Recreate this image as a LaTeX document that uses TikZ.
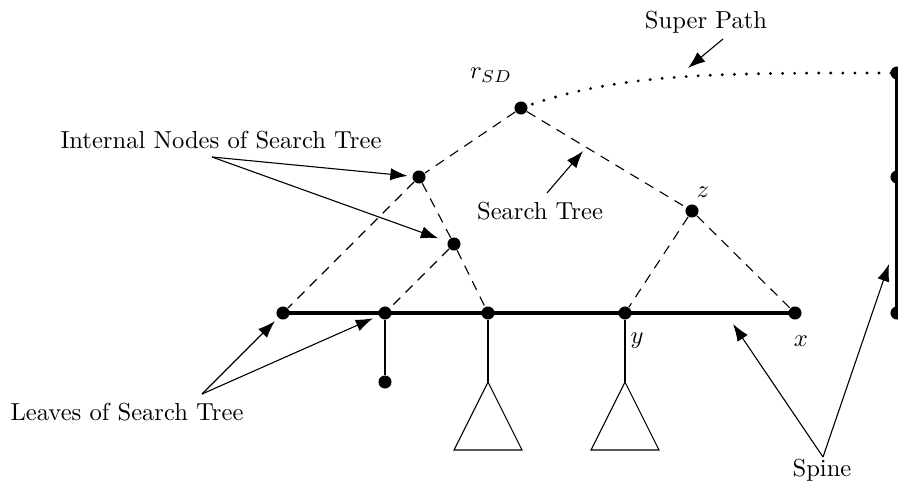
\documentclass[tikz,border=0pt]{standalone}
\usetikzlibrary{arrows.meta}
\begin{document}
\begin{tikzpicture}[x=0.4065pt,y=-0.4065pt,
  dot/.style={circle,fill=black,inner sep=0pt,minimum size=5.3pt},
  spineline/.style={line width=1.9pt},
  treeedge/.style={dash pattern=on 4pt off 3pt,line width=0.45pt},
  stem/.style={line width=0.45pt},
  superpath/.style={line width=1.3pt,line cap=round,dash pattern=on 0pt off 4.9pt},
  pointer/.style={-{Latex[length=7pt,width=5pt]},line width=0.45pt},
  lab/.style={inner sep=0pt}]
\useasboundingbox (0,0) rectangle (898,486);

% dots
\node[dot] (r) at (521,108) {};
\node[dot] (in1) at (419,177) {};
\node[dot] (in2) at (454,244) {};
\node[dot] (z) at (692,211) {};
\node[dot] (s1) at (283,313) {};
\node[dot] (s2) at (385,313) {};
\node[dot] (s3) at (488,313) {};
\node[dot] (s4) at (625,313) {};
\node[dot] (s5) at (795,313) {};
\node[dot] (leaf) at (385,382) {};
\node[dot] (p1) at (897,73) {};
\node[dot] (p2) at (897,177) {};
\node[dot] (p3) at (897,313) {};

% spine and super path line
\draw[spineline] (s1.center) -- (s5.center);
\draw[spineline] (p1.center) -- (p3.center);

% search tree (dashed)
\draw[treeedge] (r) -- (in1) -- (s1);
\draw[treeedge] (in1) -- (in2);
\draw[treeedge] (in2) -- (s2);
\draw[treeedge] (in2) -- (s3);
\draw[treeedge] (r) -- (z) -- (s5);
\draw[treeedge] (z) -- (s4);

% super path (dotted)
\draw[superpath] (r.center) .. controls (620,72) and (720,73) .. (p1.center);

% stems and subtrees
\draw[stem] (s2) -- (leaf);
\coordinate (t1) at (488,382);
\coordinate (t2) at (625,382);
\draw[stem] (s3) -- (t1);
\draw[stem] (s4) -- (t2);
\draw[stem] (t1) -- (454,450) -- (522,450) -- cycle;
\draw[stem] (t2) -- (591,450) -- (659,450) -- cycle;

% math labels
\node[lab] (lr) at (491,75) {$r_{SD}$};
\node[lab] (lz) at (703,192) {$z$};
\node[lab] (ly) at (637,341) {$y$};
\node[lab] (lx) at (801,341) {$x$};

% text labels
\node[lab] (lsuper) at (706,22) {Super Path};
\node[lab] (lsearch) at (540,211) {Search Tree};
\node[lab] (linternal) at (221,140) {Internal Nodes of Search Tree};
\node[lab] (lleaves) at (127,412) {Leaves of Search Tree};
\node[lab] (lspine) at (822,470) {Spine};

% pointers
\coordinate (superT) at (723,39);
\coordinate (superH) at (688,68);
\draw[pointer] (superT) -- (superH);

\coordinate (searchT) at (547,193);
\coordinate (searchH) at (583,151);
\draw[pointer] (searchT) -- (searchH);

\coordinate (intT) at (212,157);
\draw[pointer,shorten >=1.8pt] (intT) -- (in1);
\draw[pointer,shorten >=4pt] (intT) -- (in2);

\coordinate (leafT) at (202,394);
\draw[pointer,shorten >=1.8pt] (leafT) -- (s1);
\draw[pointer,shorten >=2.5pt] (leafT) -- (s2);

\coordinate (spineT) at (823,457);
\coordinate (spineH1) at (733,324);
\coordinate (spineH2) at (889,264);
\draw[pointer] (spineT) -- (spineH1);
\draw[pointer] (spineT) -- (spineH2);
\end{tikzpicture}
\end{document}
